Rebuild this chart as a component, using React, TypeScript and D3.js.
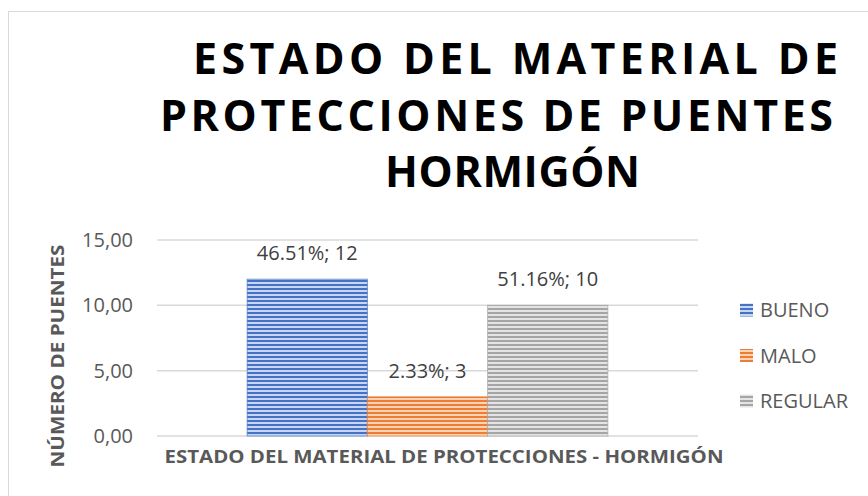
import React from "react";
import * as d3 from "d3";

const W = 868;
const H = 496;

const category = "ESTADO DEL MATERIAL DE PROTECCIONES - HORMIGÓN";
const seriesNames = ["BUENO", "MALO", "REGULAR"];
const seriesValues = [12, 3, 10];
const seriesPercents = ["46.51%", "2.33%", "51.16%"];
const yTicks = [0, 5, 10, 15];
const titleLines = ["ESTADO DEL MATERIAL DE", "PROTECCIONES DE PUENTES", "HORMIGÓN"];

const darkColors = ["#4472C4", "#ED7D31", "#A5A5A5"];
const lightColors = ["#c9d6ef", "#fad3b8", "#e4e4e4"];

const FONT = "'Open Sans', 'DejaVu Sans', sans-serif";

const plot = { left: 157, right: 698, top: 240, bottom: 436 };

export default function App() {
  const y = d3.scaleLinear().domain([0, 15]).range([plot.bottom, plot.top]);
  const xCat = d3
    .scaleBand<string>()
    .domain([category])
    .range([plot.left, plot.right])
    .paddingInner(0)
    .paddingOuter(0.25);
  const xSeries = d3
    .scaleBand<string>()
    .domain(seriesNames)
    .range([xCat(category)!, xCat(category)! + xCat.bandwidth()])
    .padding(0);
  const fmt = (v: number) => d3.format(".2f")(v).replace(".", ",");

  // left edge, width and baseline of each title line
  const titleX = [193, 160, 385];
  const titleWidths = [645, 673, 255];
  const titleBaselines = [74, 131, 187];

  return (
    <svg
      width={W}
      height={H}
      style={{ position: "absolute", left: 0, top: 0, display: "block" }}
      fontFamily={FONT}
    >
      <defs>
        {seriesNames.map((s, i) => (
          <pattern
            key={s}
            id={`pat-${i}`}
            patternUnits="userSpaceOnUse"
            width={4}
            height={4}
          >
            <rect width={4} height={4} fill={lightColors[i]} />
            <rect width={4} height={2} fill={darkColors[i]} />
          </pattern>
        ))}
      </defs>
      <rect x={0} y={0} width={W} height={H} fill="#ffffff" />
      <rect
        x={8.5}
        y={11.5}
        width={W + 20}
        height={H + 20}
        fill="none"
        stroke="#d9d9d9"
        strokeWidth={1}
      />

      {/* title */}
      {titleLines.map((t, i) => (
        <text
          key={t}
          x={titleX[i]}
          y={titleBaselines[i]}
          fontSize={43}
          fontWeight={700}
          fill="#000000"
          textLength={titleWidths[i]}
          lengthAdjust="spacing"
        >
          {t}
        </text>
      ))}

      {/* gridlines */}
      {yTicks.map((t) => (
        <g key={t}>
          <line
            x1={plot.left}
            x2={plot.right}
            y1={y(t)}
            y2={y(t)}
            stroke="#d9d9d9"
            strokeWidth={1.5}
          />
          <text
            x={133}
            y={y(t) + 7}
            textAnchor="end"
            fontSize={20}
            fill="#595959"
          >
            {fmt(t)}
          </text>
        </g>
      ))}

      {/* bars */}
      {seriesNames.map((s, i) => (
        <rect
          key={s}
          x={xSeries(s)}
          y={y(seriesValues[i])}
          width={xSeries.bandwidth()}
          height={y(0) - y(seriesValues[i])}
          fill={`url(#pat-${i})`}
          stroke={darkColors[i]}
          strokeWidth={1}
          strokeOpacity={0.7}
        />
      ))}

      {/* data labels */}
      {seriesNames.map((s, i) => (
        <text
          key={s}
          x={xSeries(s)! + xSeries.bandwidth() / 2}
          y={y(seriesValues[i]) - 19}
          textAnchor="middle"
          fontSize={20}
          fill="#404040"
        >
          {`${seriesPercents[i]}; ${seriesValues[i]}`}
        </text>
      ))}

      {/* axis titles */}
      <text
        x={444}
        y={463}
        textAnchor="middle"
        fontSize={18}
        fontWeight={700}
        fill="#595959"
        textLength={559}
        lengthAdjust="spacingAndGlyphs"
      >
        {category}
      </text>
      <text
        transform={`translate(64,356) rotate(-90)`}
        textAnchor="middle"
        fontSize={18}
        fontWeight={700}
        fill="#595959"
        textLength={223}
        lengthAdjust="spacingAndGlyphs"
      >
        NÚMERO DE PUENTES
      </text>

      {/* legend */}
      {seriesNames.map((s, i) => {
        const cy = 310 + i * 45.5;
        return (
          <g key={s}>
            <rect
              x={740}
              y={cy - 6.5}
              width={13}
              height={13}
              fill={`url(#pat-${i})`}
            />
            <text x={760} y={cy + 7} fontSize={20} fill="#595959">
              {s}
            </text>
          </g>
        );
      })}
    </svg>
  );
}
